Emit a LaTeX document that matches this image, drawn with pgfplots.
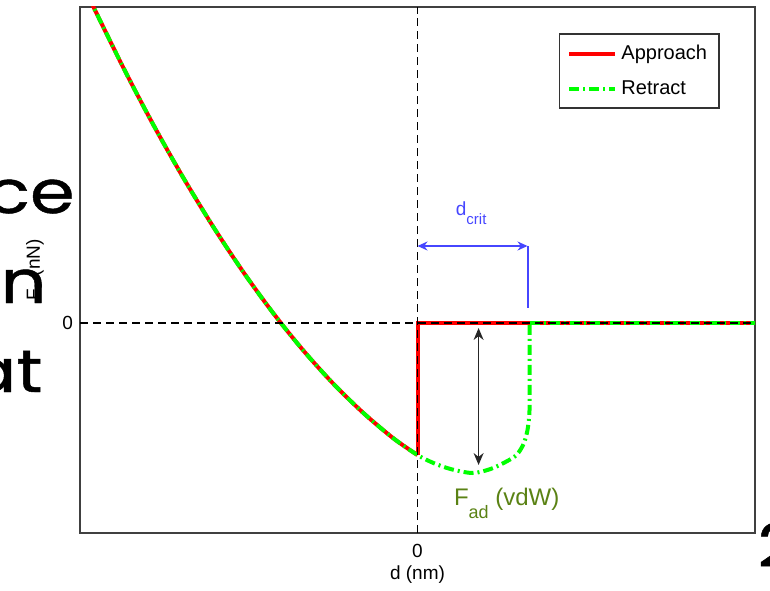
\documentclass[border=0pt]{standalone}
\usepackage{pgfplots}
\pgfplotsset{compat=1.18}
\usepackage{fontspec}
\setmainfont{Liberation Sans}
\newfontfamily\slidefont{Poppins}[FakeBold=0.8,FakeStretch=1.2]
\usetikzlibrary{arrows.meta}
\definecolor{dblue}{RGB}{70,70,255}
\definecolor{olivg}{RGB}{90,130,20}
\definecolor{lgreen}{RGB}{0,255,0}
\begin{document}
\begin{tikzpicture}
\begin{axis}[
  name=ax, at={(0,0)}, anchor=south west,
  scale only axis, width=337.5pt, height=263pt,
  xmin=-1, xmax=1, ymin=-2.1, ymax=3.16,
  xtick={0}, ytick={0},
  tick align=inside, major tick length=3.5pt,
  axis line style={black!75, line width=0.6pt},
  tick style={black, line width=0.5pt},
  ticklabel style={font=\fontsize{9.5}{11}\selectfont},
  xticklabel style={yshift=-2.3pt},
  /pgf/number format/assume math mode=true,
  xlabel={d (nm)}, ylabel={F\textsubscript{s} (nN)},
  xlabel style={font=\fontsize{9.5}{11}\selectfont, at={(axis description cs:0.5,-0.0798)}, anchor=center},
  ylabel style={font=\fontsize{9.5}{11}\selectfont, at={(axis description cs:-0.0667,0.5)}, anchor=center},
  legend style={at={(axis description cs:0.948,0.9506)}, anchor=north east, draw=black!80, line width=0.8pt,
    font=\fontsize{10}{12}\selectfont, inner xsep=4pt, inner ysep=3.5pt, row sep=5pt,
    nodes={inner sep=2pt}},
  legend cell align=left,
  legend image code/.code={\draw[#1] (0pt,0pt) -- (23pt,0pt);},
  clip=true,
]
% approach curve (red)
\addplot[red, line width=2pt, smooth, tension=0.5, forget plot] coordinates {
(-0.9748,3.266) (-0.9600,3.16) (-0.8711,2.55) (-0.7822,1.979) (-0.6933,1.449)
(-0.6044,0.958) (-0.5156,0.507) (-0.4267,0.095) (-0.3378,-0.277) (-0.2489,-0.609)
(-0.1600,-0.901) (-0.0711,-1.154) (0,-1.32)};
\addplot[red, line width=2pt] coordinates {(0,-1.32) (0,0) (1.02,0)};
% retract (green)
\addplot[lgreen, line width=2pt, dash pattern=on 5pt off 2pt on 1pt off 2pt, smooth, tension=0.5] coordinates {
(-0.9748,3.266) (-0.9600,3.16) (-0.8711,2.55) (-0.7822,1.979) (-0.6933,1.449)
(-0.6044,0.958) (-0.5156,0.507) (-0.4267,0.095) (-0.3378,-0.277) (-0.2489,-0.609)
(-0.1600,-0.901) (-0.0711,-1.154) (0,-1.32) (0.0474,-1.40) (0.0978,-1.46) (0.1630,-1.50)
(0.2163,-1.46) (0.2607,-1.39) (0.2933,-1.32) (0.3141,-1.21) (0.3259,-1.07)
(0.3319,-0.87) (0.3319,-0.47) (0.3319,0)};
\addplot[lgreen, line width=2pt, dash pattern=on 5pt off 2pt on 1pt off 2pt, forget plot] coordinates {(0.3319,0) (1.02,0)};
% reference dashed lines
\addplot[black, line width=0.6pt, dash pattern=on 4pt off 2.5pt, forget plot] coordinates {(0,-2.1) (0,3.16)};
\addplot[black, line width=0.6pt, dash pattern=on 4pt off 2.5pt, forget plot] coordinates {(-1,0) (1,0)};
\legend{Approach, Retract}
% annotations
\draw[dblue, line width=0.7pt, {Stealth[length=5pt,width=4.5pt]}-{Stealth[length=5pt,width=4.5pt]}] (axis cs:0,0.77) -- (axis cs:0.326,0.77);
\draw[dblue, line width=0.7pt] (axis cs:0.327,0.77) -- (axis cs:0.327,0.15);
\node[anchor=base west, text=dblue, font=\fontsize{9.5}{11}\selectfont, inner sep=0pt] at (axis cs:0.1126,1.08) {d\raisebox{-4.5pt}{\fontsize{7.5}{8}\selectfont crit}};
\draw[black!85, line width=0.7pt, {Stealth[length=6pt,width=5pt]}-{Stealth[length=6pt,width=5pt]}] (axis cs:0.181,-0.05) -- (axis cs:0.181,-1.42);
\node[anchor=base west, text=olivg, font=\fontsize{12}{14}\selectfont, inner sep=0pt] at (axis cs:0.107,-1.82) {F\raisebox{-6.5pt}{\fontsize{9}{10}\selectfont ad} (vdW)};
\end{axis}
% slide text overlapping the chart
\node[anchor=base east, font=\slidefont\fontsize{30}{32}\selectfont, inner sep=0pt] at (-2.5pt,160pt) {ce};
\node[anchor=base east, font=\slidefont\fontsize{30}{32}\selectfont, inner sep=0pt] at (-16.5pt,115pt) {on};
\node[anchor=base east, font=\slidefont\fontsize{30}{32}\selectfont, inner sep=0pt] at (-18.5pt,70.5pt) {at};
\node[anchor=north west, font=\slidefont\fontsize{30}{32}\selectfont, inner sep=0pt] at (338.5pt,5.5pt) {2};
\pgfresetboundingbox
\path[use as bounding box] (-40pt,-28.5pt) rectangle (345pt,266.5pt);
\end{tikzpicture}
\end{document}
